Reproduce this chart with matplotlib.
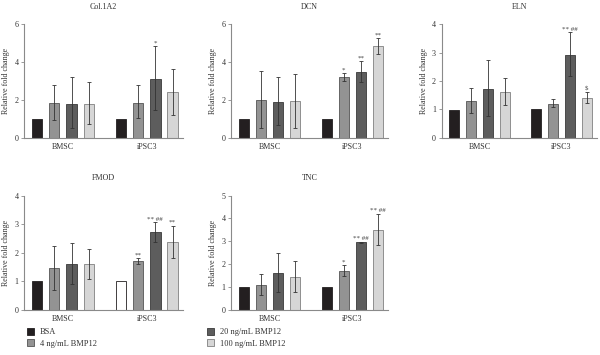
import numpy as np
import matplotlib
matplotlib.use("Agg")
import matplotlib.pyplot as plt

plt.rcParams["font.family"] = ["Liberation Serif", "DejaVu Serif"]

# data
groups = ["BMSC", "iPSC3"]
treatments = ["BSA", "4 ng/mL BMP12", "20 ng/mL BMP12", "100 ng/mL BMP12"]

titles = ["Col.1A2", "DCN", "ELN", "FMOD", "TNC"]
ymax = [6, 6, 4, 4, 5]
yticks = [[0, 2, 4, 6], [0, 2, 4, 6], [0, 1, 2, 3, 4], [0, 1, 2, 3, 4], [0, 1, 2, 3, 4, 5]]

# means: rows = treatments, cols = groups (BMSC, iPSC3)
col1a2_mean = [[1.0, 1.0], [1.83, 1.84], [1.79, 3.10], [1.76, 2.41]]
col1a2_hi = [[1.0, 1.0], [2.80, 2.81], [3.20, 4.83], [2.92, 3.62]]
col1a2_lo = [[1.0, 1.0], [0.93, 1.03], [0.50, 1.45], [0.73, 1.20]]
col1a2_sig = [["", ""], ["", ""], ["", "*"], ["", ""]]

dcn_mean = [[1.0, 1.0], [1.99, 3.21], [1.88, 3.48], [1.93, 4.85]]
dcn_hi = [[1.0, 1.0], [3.51, 3.42], [3.19, 4.04], [3.38, 5.26]]
dcn_lo = [[1.0, 1.0], [0.50, 3.02], [0.65, 2.97], [0.53, 4.42]]
dcn_sig = [["", ""], ["", "*"], ["", "**"], ["", "**"]]

eln_mean = [[0.98, 1.0], [1.28, 1.20], [1.70, 2.91], [1.62, 1.39]]
eln_hi = [[0.98, 1.0], [1.75, 1.35], [2.72, 3.71], [2.10, 1.60]]
eln_lo = [[0.98, 1.0], [0.86, 1.08], [0.77, 2.18], [1.15, 1.21]]
eln_sig = [["", ""], ["", ""], ["", "** ##"], ["", "$"]]

fmod_mean = [[1.0, 1.0], [1.45, 1.71], [1.61, 2.72], [1.60, 2.38]]
fmod_hi = [[1.0, 1.0], [2.23, 1.81], [2.33, 3.06], [2.13, 2.95]]
fmod_lo = [[1.0, 1.0], [0.68, 1.61], [0.92, 2.36], [1.08, 1.82]]
fmod_sig = [["", ""], ["", "**"], ["", "** ##"], ["", "**"]]

tnc_mean = [[1.0, 1.0], [1.08, 1.72], [1.61, 2.95], [1.43, 3.49]]
tnc_hi = [[1.0, 1.0], [1.59, 1.95], [2.48, 2.99], [2.15, 4.21]]
tnc_lo = [[1.0, 1.0], [0.65, 1.50], [0.79, 2.91], [0.78, 2.86]]
tnc_sig = [["", ""], ["", "*"], ["", "** ##"], ["", "** ##"]]

means = [col1a2_mean, dcn_mean, eln_mean, fmod_mean, tnc_mean]
his = [col1a2_hi, dcn_hi, eln_hi, fmod_hi, tnc_hi]
los = [col1a2_lo, dcn_lo, eln_lo, fmod_lo, tnc_lo]
sigs = [col1a2_sig, dcn_sig, eln_sig, fmod_sig, tnc_sig]

face = ["#231f20", "#939393", "#5d5d5d", "#d6d6d6"]
edge = ["#231f20", "#555555", "#3a3a3a", "#808080"]

fig = plt.figure(figsize=(6, 3.55), dpi=100)

# panel rectangles in figure fraction
rects = [
    [0.040, 0.612, 0.265, 0.320],
    [0.385, 0.612, 0.262, 0.320],
    [0.736, 0.612, 0.259, 0.320],
    [0.040, 0.127, 0.265, 0.322],
    [0.385, 0.127, 0.262, 0.322],
]

fs = 5.8
gpos = np.array([0.0, 4.85])
offs = [-1.5, -0.5, 0.5, 1.5]
spine_c = "#8a8a8a"

for p in range(5):
    ax = fig.add_axes(rects[p])
    m = np.array(means[p])
    hi = np.array(his[p])
    lo = np.array(los[p])
    for t in range(4):
        x = gpos + offs[t]
        fc = [face[t], face[t]]
        ec = [edge[t], edge[t]]
        if p == 3 and t == 0:
            fc[1] = "white"
        ax.bar(x, m[t], width=0.6, color=fc, edgecolor=ec, linewidth=0.6, zorder=2)
        if t > 0:
            yerr = np.vstack([m[t] - lo[t], hi[t] - m[t]])
            ax.errorbar(x, m[t], yerr=yerr, fmt="none", ecolor="#333333",
                        elinewidth=0.6, capsize=1.3, capthick=0.6, zorder=3)
        for g in range(2):
            s = sigs[p][t][g]
            if s:
                ax.annotate(s.replace("$", r"\$"), (x[g], hi[t][g]), xytext=(0, 0.5),
                            textcoords="offset points", ha="center", va="bottom",
                            fontsize=fs - 0.8, color="#444444")
    ax.set_xlim(-2.25, 6.95)
    ax.set_ylim(0, ymax[p])
    ax.set_yticks(yticks[p])
    ax.set_xticks(gpos)
    ax.set_xticklabels(groups)
    ax.tick_params(axis="x", length=0, pad=4, labelsize=fs, colors="#333333")
    ax.tick_params(axis="y", length=2, width=0.6, pad=2, labelsize=fs,
                   colors=spine_c, labelcolor="#333333")
    for sp in ["top", "right"]:
        ax.spines[sp].set_visible(False)
    for sp in ["left", "bottom"]:
        ax.spines[sp].set_color(spine_c)
        ax.spines[sp].set_linewidth(0.8)
    ax.set_ylabel("Relative fold change", fontsize=fs, color="#333333", labelpad=3)
    ax.set_title(titles[p], fontsize=fs, color="#333333", pad=11)

# legend
handles = [plt.Rectangle((0, 0), 1, 1, facecolor=face[i], edgecolor=edge[i], linewidth=0.6)
           for i in range(4)]
fig.legend(handles, treatments, loc="lower left", bbox_to_anchor=(0.032, 0.0),
           ncol=2, columnspacing=13.2, frameon=False, fontsize=6,
           handlelength=0.9, handleheight=0.9, handletextpad=0.7, labelspacing=0.35,
           labelcolor="#333333")

fig.savefig("out.png", dpi=100)
